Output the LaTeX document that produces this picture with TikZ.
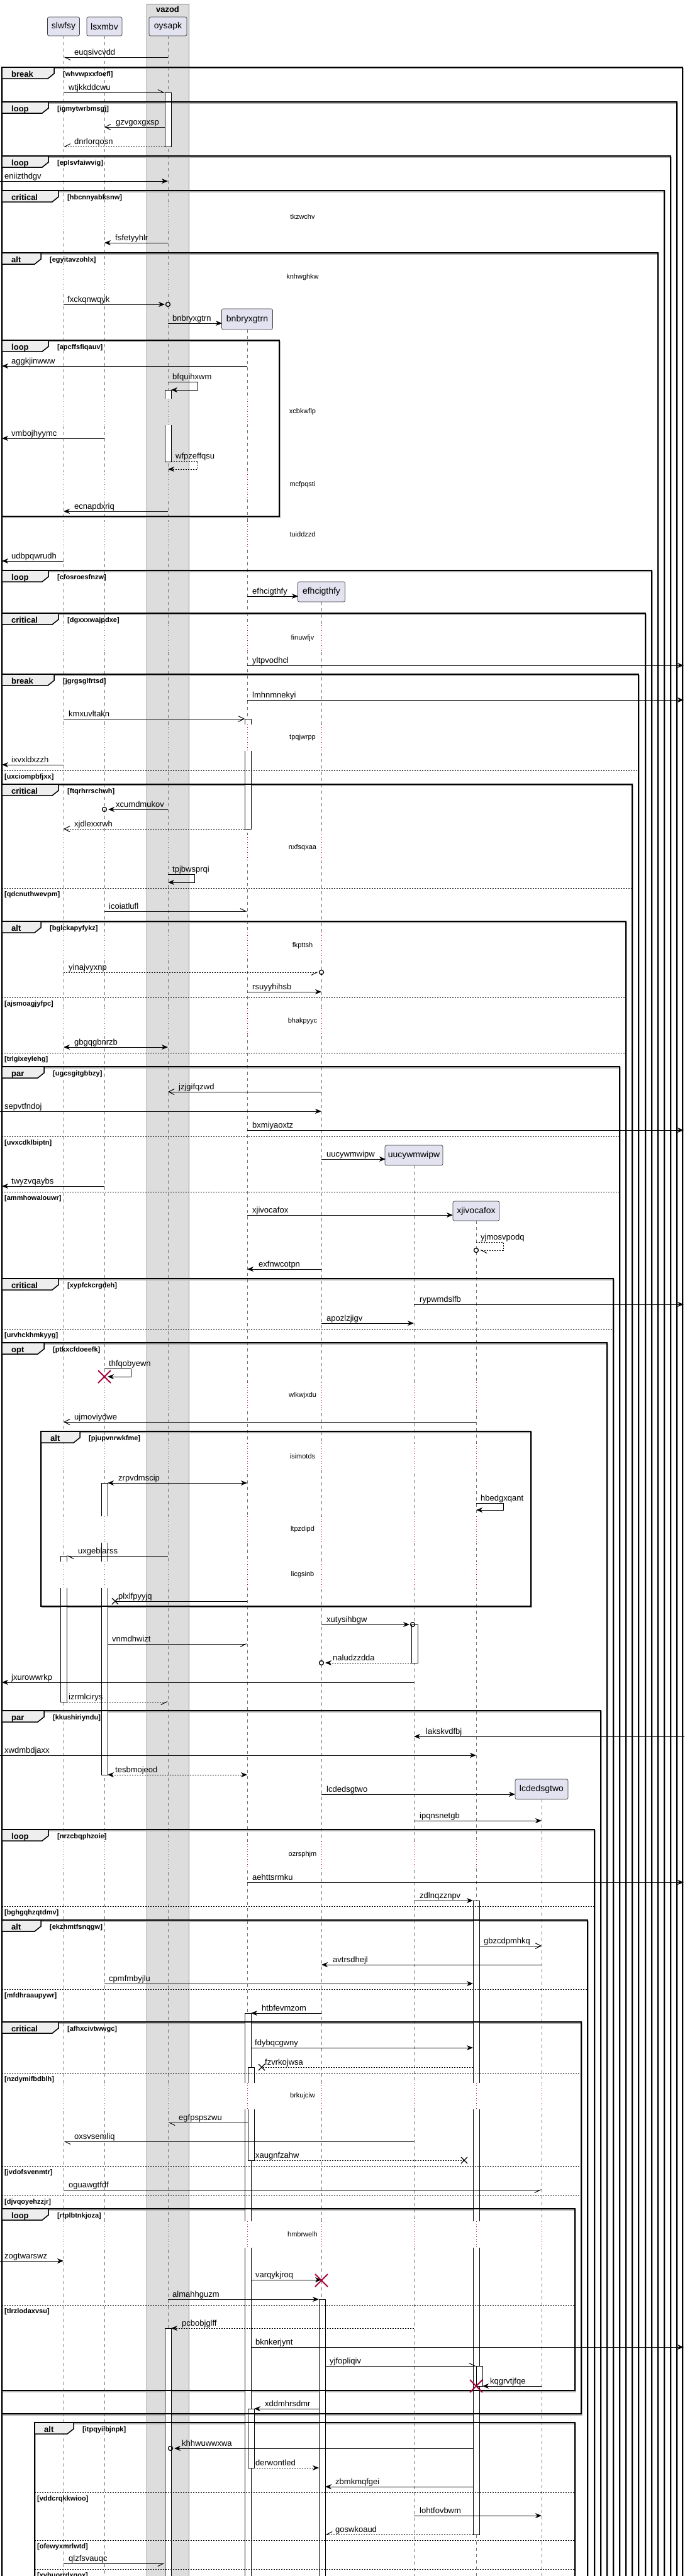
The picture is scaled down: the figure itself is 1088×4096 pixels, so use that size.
\documentclass[tikz,border=0pt]{standalone}
\usepackage{fontspec}
\setmainfont{Liberation Sans}
\usetikzlibrary{arrows.meta}
\definecolor{partfill}{HTML}{E2E2F0}
\definecolor{boxfill}{HTML}{DDDDDD}
\definecolor{tabfill}{HTML}{EEEEEE}
\definecolor{dred}{HTML}{A80036}
\pgfdeclarelayer{back}
\pgfdeclarelayer{shade}
\pgfsetlayers{back,shade,main}
\newcommand\fmsg{\fontsize{13}{15}\selectfont}
\newcommand\fpart{\fontsize{14}{16}\selectfont}
\newcommand\fdel{\fontsize{11}{13}\selectfont}
\newcommand\fkw{\fontsize{13}{15}\selectfont\bfseries}
\newcommand\fcond{\fontsize{11}{13}\selectfont\bfseries}
\tikzset{
  msgline/.style={line width=1pt, black},
  dotl/.style={dash pattern=on 2pt off 2pt},
  af/.style={-{Stealth[length=10pt,width=8pt,inset=3pt]}},
  ao/.style={-{Straight Barb[length=9pt,width=9pt]}},
  hp/.style={-{Straight Barb[harpoon,length=9pt,width=9pt]}},
  hps/.style={-{Straight Barb[harpoon,swap,length=9pt,width=9pt]}},
  abb/.style={{Stealth[length=10pt,width=8pt,inset=3pt]}-{Stealth[length=10pt,width=8pt,inset=3pt]}},
  lifeline/.style={black!55, line width=0.7pt, dash pattern=on 5pt off 5pt},
  gdot/.style={black!60, line width=0.8pt, dash pattern=on 1pt off 3pt},
  rdot/.style={dred, line width=0.8pt, dash pattern=on 1pt off 3pt},
  frameline/.style={line width=1.5pt, black},
  frameshadow/.style={line width=1.5pt, black!30},
  tabst/.style={fill=tabfill, draw=black, line width=1.5pt, line join=miter},
  kwlbl/.style={anchor=base west, inner sep=0pt, font=\fkw},
  condlbl/.style={anchor=base west, inner sep=0pt, font=\fcond},
  mlbl/.style={anchor=base west, inner sep=0pt, font=\fmsg},
  dlbl/.style={anchor=center, inner sep=0pt, font=\fdel},
  elsel/.style={line width=1pt, dash pattern=on 2pt off 2pt},
  actbar/.style={fill=white, draw=black, line width=0.8pt},
  partbox/.style={draw=black!75, fill=partfill, rounded corners=2.5pt, line width=0.7pt, font=\fpart, inner sep=0pt, anchor=center},
  circmark/.style={circle, draw, line width=1.3pt, minimum size=7pt, inner sep=0pt},
}
% message: id, x1, x2, y, style, label x, text
\newcommand{\smsg}[7]{%
  \coordinate (#1s) at (#2,#4);
  \coordinate (#1e) at (#3,#4);
  \draw[msgline,#5] (#1s) -- (#1e);
  \node[mlbl] (#1l) at (#6,#4-4) {#7};}
% self message: id, xstart, xout, y1, y2, xend, style, label x, text
\newcommand{\sself}[9]{%
  \coordinate (#1s) at (#2,#4);
  \coordinate (#1e) at (#6,#5);
  \draw[msgline,#7] (#1s) -- (#3,#4) -- (#3,#5) -- (#1e);
  \node[mlbl] (#1l) at (#8,#4-4) {#9};}
\newcommand{\cmk}[3]{\node[circmark] (#1) at (#2,#3) {};}
\newcommand{\xmk}[3]{\coordinate (#1) at (#2,#3);
  \draw[line width=1.3pt] (#2-5,#3-5) -- (#2+5,#3+5) (#2-5,#3+5) -- (#2+5,#3-5);}
\newcommand{\dstr}[3]{\coordinate (#1) at (#2,#3);
  \draw[dred,line width=2pt] (#2-10,#3-10) -- (#2+10,#3+10) (#2-10,#3+10) -- (#2+10,#3-10);}
\newcommand{\actb}[4]{\draw[actbar] (#1,#2) rectangle (#3,#4);}
% group: id, L, T, R, B, tabR, keyword, condition
\newcommand{\sgrp}[8]{%
  \begin{pgfonlayer}{shade}
  \draw[frameshadow] (#2+1.5,#3+2) rectangle (#4+1.5,#5+2);
  \end{pgfonlayer}
  \draw[frameline] (#2,#3) rectangle (#4,#5);
  \filldraw[tabst] (#2,#3) -- (#6,#3) -- (#6,#3+10) -- (#6-10,#3+18) -- (#2,#3+18) -- cycle;
  \node[kwlbl] (#1k) at (#2+15,#3+15) {#7};
  \node[condlbl] (#1c) at (#6+14,#3+14) {[#8]};}
% else: id, L, R, y, condition
\newcommand{\selse}[5]{%
  \draw[elsel] (#2,#4) -- (#3,#4);
  \node[condlbl] (#1) at (#2+4,#4+13) {[#5]};}
% delay gaps
\newcommand{\dgw}[2]{\fill[white] (#1-12,#2-21) rectangle (#1+13,#2+21);\draw[gdot] (#1,#2-21) -- (#1,#2+21);}
\newcommand{\dgc}[2]{\fill[boxfill] (#1-12,#2-21) rectangle (#1+13,#2+21);\draw[gdot] (#1,#2-21) -- (#1,#2+21);}
\newcommand{\dgr}[2]{\fill[white] (#1-12,#2-21) rectangle (#1+13,#2+21);\draw[rdot] (#1,#2-21) -- (#1,#2+21);}
\newcommand{\dABC}[1]{\dgw{101}{#1}\dgw{166}{#1}\dgc{267}{#1}}
\newcommand{\dly}[3]{\node[dlbl] (#1) at (481,#2) {#3};}

\begin{document}
\begin{tikzpicture}[x=1pt,y=-1pt]
\useasboundingbox (0,0) rectangle (1088,4096);
\clip (0,0) rectangle (1088,4096);
\begin{pgfonlayer}{back}
\fill[white] (0,0) rectangle (1088,4096);
\node[draw=black!50, fill=boxfill, line width=0.7pt, minimum width=67pt, minimum height=4104pt, anchor=north west, inner sep=0pt] (vbox) at (233,6) {};
\end{pgfonlayer}
\node[font=\fkw] (vtitle) at (266.5,15) {vazod};

% participants
\node[partbox, minimum width=51pt, minimum height=30pt] (pA) at (101,42) {slwfsy};
\node[partbox, minimum width=56pt, minimum height=30pt] (pB) at (166,42) {lsxmbv};
\node[partbox, minimum width=60pt, minimum height=30pt] (pC) at (267,42) {oysapk};
\node[partbox, minimum width=81pt, minimum height=33pt] (pD) at (393,507.5) {bnbryxgtrn};
\node[partbox, minimum width=75pt, minimum height=32pt] (pE) at (511,941) {efhcigthfy};
\node[partbox, minimum width=92pt, minimum height=32pt] (pF) at (658,1837) {uucywmwipw};
\node[partbox, minimum width=74pt, minimum height=31pt] (pG) at (757,1925.5) {xjivocafox};
\node[partbox, minimum width=84pt, minimum height=32pt] (pH) at (861,2845) {lcdedsgtwo};

% lifelines
\coordinate (zA) at (101,4110);\coordinate (zB) at (166,4110);\coordinate (zC) at (267,4110);
\coordinate (zD) at (393,4110);\coordinate (zE) at (511,4110);\coordinate (zF) at (658,4110);
\coordinate (zG) at (757,4110);\coordinate (zH) at (861,4110);
\draw[lifeline] (pA.south) -- (zA);
\draw[lifeline] (pB.south) -- (zB);
\draw[lifeline] (pC.south) -- (zC);
\draw[lifeline] (pD.south) -- (zD);
\draw[lifeline] (pE.south) -- (zE);
\draw[lifeline] (pF.south) -- (zF);
\draw[lifeline] (pG.south) -- (zG);
\draw[lifeline] (pH.south) -- (zH);

% activations
\actb{262}{147}{272}{233}
\actb{262}{620}{272}{734}
\actb{389}{1143}{399}{1318}
\actb{161}{2358}{171}{2822}
\actb{96}{2474}{106}{2706}
\actb{654}{2583}{664}{2644}
\actb{752}{3022}{762}{4030}
\actb{389}{3201}{399}{4110}
\actb{394}{3287}{404}{3435}
\actb{507}{3656}{517}{4110}
\actb{262}{3702}{272}{4110}
\actb{757}{3762}{767}{3794}
\actb{394}{3830}{404}{3924}

% groups
\sgrp{f1}{3}{107}{1085}{4110}{86}{break}{whvwpxxfoefl}
\sgrp{f2}{3}{162}{1076}{4110}{77}{loop}{igmytwrbmsgj}
\sgrp{f3}{3}{248}{1066}{4110}{77}{loop}{eplsvfaiwvig}
\sgrp{f4}{3}{303}{1056}{4110}{93}{critical}{hbcnnyabksnw}
\sgrp{f5}{3}{402}{1046}{4110}{65}{alt}{egyitavzohlx}
\sgrp{f6}{3}{541}{444}{821}{77}{loop}{apcffsfiqauv}
\sgrp{f7}{3}{907}{1036}{4110}{77}{loop}{cfosroesfnzw}
\sgrp{f8}{3}{975}{1026}{4110}{93}{critical}{dgxxxwajpdxe}
\sgrp{f9}{3}{1072}{1015}{4110}{86}{break}{jgrgsglfrtsd}
\selse{e9a}{3}{1015}{1225}{uxciompbfjxx}
\sgrp{f10}{3}{1247}{1005}{4110}{93}{critical}{ftqrhrrschwh}
\selse{e10a}{3}{1005}{1412}{qdcnuthwevpm}
\sgrp{f11}{3}{1465}{995}{4110}{65}{alt}{bglckapyfykz}
\selse{e11a}{3}{995}{1586}{ajsmoagjyfpc}
\selse{e11b}{3}{995}{1674}{trlgixeylehg}
\sgrp{f12}{3}{1696}{985}{4110}{70}{par}{ugcsgitgbbzy}
\selse{e12a}{3}{985}{1807}{uvxcdklbiptn}
\selse{e12b}{3}{985}{1895}{ammhowalouwr}
\sgrp{f13}{3}{2033}{975}{4110}{93}{critical}{xypfckcrgdeh}
\selse{e13a}{3}{975}{2113}{urvhckhmkyyg}
\sgrp{f14}{3}{2135}{965}{4110}{70}{opt}{ptkxcfdoeefk}
\sgrp{f15}{65}{2276}{844}{2554}{127}{alt}{pjupvnrwkfme}
\sgrp{f16}{3}{2720}{955}{4110}{70}{par}{kkushiriyndu}
\sgrp{f17}{3}{2909}{945}{4110}{77}{loop}{nrzcbqphzoie}
\selse{e17a}{3}{945}{3031}{bghgqhzqtdmv}
\sgrp{f18}{3}{3053}{934}{4110}{65}{alt}{ekzhmtfsnqgw}
\selse{e18a}{3}{934}{3163}{mfdhraaupywr}
\sgrp{f19}{3}{3215}{924}{3838}{93}{critical}{afhxcivtwwgc}
\selse{e19a}{3}{924}{3296}{nzdymifbdblh}
\selse{e19b}{3}{924}{3444}{jvdofsvenmtr}
\selse{e19c}{3}{924}{3491}{djvqoyehzzjr}
\sgrp{f20}{3}{3512}{914}{3801}{77}{loop}{rtplbtnkjoza}
\selse{e20a}{3}{914}{3665}{tlrzlodaxvsu}
\sgrp{f21}{55}{3852}{914}{4110}{117}{alt}{itpqyiibjnpk}
\selse{e21a}{55}{914}{3963}{vddcrqkkwioo}
\selse{e21b}{55}{914}{4039}{ofewyxmrlwtd}
\selse{e21c}{55}{914}{4085}{xybuorrdxgox}

% delays
\dABC{345}\dly{d1}{345}{tkzwchv}
\dABC{441}\dly{d2}{441}{knhwghkw}
\dABC{655}\dgr{393}{655}\dly{d3}{655}{xcbkwflp}
\dABC{771}\dgr{393}{771}\dly{d4}{771}{mcfpqsti}
\dABC{850}\dgr{393}{850}\dly{d5}{850}{tuiddzzd}
\dABC{1015}\dgr{393}{1015}\dgr{511}{1015}\dly{d6}{1015}{finuwfjv}
\dABC{1173}\dgr{393}{1173}\dgr{511}{1173}\dly{d7}{1173}{tpqjwrpp}
\dABC{1348}\dgr{393}{1348}\dgr{511}{1348}\dly{d8}{1348}{nxfsqxaa}
\dABC{1504}\dgr{393}{1504}\dgr{511}{1504}\dly{d9}{1504}{fkpttsh}
\dABC{1624}\dgr{393}{1624}\dgr{511}{1624}\dly{d10}{1624}{bhakpyyc}
\dABC{2219}\dgr{393}{2219}\dgr{511}{2219}\dgr{658}{2219}\dgr{757}{2219}\dly{d11}{2219}{wlkwjxdu}
\dABC{2316}\dgr{393}{2316}\dgr{511}{2316}\dgr{658}{2316}\dgr{757}{2316}\dly{d12}{2316}{isimotds}
\dABC{2432}\dgr{393}{2432}\dgr{511}{2432}\dgr{658}{2432}\dgr{757}{2432}\dly{d13}{2432}{ltpzdipd}
\dABC{2504}\dgr{393}{2504}\dgr{511}{2504}\dgr{658}{2504}\dgr{757}{2504}\dly{d14}{2504}{licgsinb}
\dABC{2949}\dgr{393}{2949}\dgr{511}{2949}\dgr{658}{2949}\dgr{757}{2949}\dgr{861}{2949}\dly{d15}{2949}{ozrsphjm}
\dABC{3333}\dgr{393}{3333}\dgr{511}{3333}\dgr{658}{3333}\dgr{757}{3333}\dgr{861}{3333}\dly{d16}{3333}{brkujciw}
\dABC{3553}\dgr{393}{3553}\dgr{511}{3553}\dgr{658}{3553}\dgr{757}{3553}\dgr{861}{3553}\dly{d17}{3553}{hmbrwelh}

% messages
\smsg{m1}{267}{101}{91}{hp}{118}{euqsivcvdd}
\smsg{m2}{101}{262}{147}{hp}{109}{wtjkkddcwu}
\smsg{m3}{262}{166}{202}{ao}{184}{gzvgoxgxsp}
\smsg{m4}{262}{101}{233}{hps,dotl}{118}{dnrlorqosn}
\smsg{m5}{0}{267}{288}{af}{7}{eniizthdgv}
\smsg{m6}{267}{166}{386}{af}{183}{fsfetyyhlr}
\smsg{m7}{101}{262}{484}{af}{107}{fxckqnwqyk}\cmk{m7o}{267}{484}
\smsg{m8}{267}{353}{514}{af}{274}{bnbryxgtrn}
\smsg{m9}{393}{3}{582}{af}{18}{aggkjinwww}
\sself{m10}{267}{314}{607}{620}{272}{af}{274}{bfquihxwm}
\smsg{m11}{166}{3}{697}{af}{18}{vmbojhyymc}
\sself{m12}{272}{314}{733}{746}{267}{af,dotl}{279}{wfpzeffqsu}
\smsg{m13}{267}{101}{813}{af}{118}{ecnapdxriq}
\smsg{m14}{101}{3}{892}{af}{18}{udbpqwrudh}
\smsg{m15}{393}{474}{948}{af}{401}{efhcigthfy}
\smsg{m16}{393}{1087}{1058}{af}{401}{yltpvodhcl}
\smsg{m17}{393}{1087}{1113}{af}{401}{lmhnmnekyi}
\smsg{m18}{101}{389}{1143}{ao}{109}{kmxuvltakn}
\smsg{m19}{101}{3}{1216}{af}{18}{ixvxldxzzh}
\smsg{m20}{267}{172}{1287}{af}{184}{xcumdmukov}\cmk{m20o}{166}{1287}
\smsg{m21}{389}{101}{1318}{ao,dotl}{118}{xjdlexxrwh}
\sself{m22}{267}{309}{1390}{1403}{267}{af}{274}{tpjbwsprqi}
\smsg{m23}{166}{393}{1449}{hp}{173}{icoiatlufl}
\smsg{m24}{101}{506}{1546}{hps,dotl}{109}{yinajvyxnp}\cmk{m24o}{511}{1546}
\smsg{m25}{393}{511}{1577}{af}{401}{rsuyyhihsb}
\smsg{m26}{101}{267}{1665}{abb}{118}{gbgqgbnrzb}
\smsg{m27}{511}{267}{1736}{ao}{284}{jzjgifqzwd}
\smsg{m28}{0}{511}{1767}{af}{7}{sepvtfndoj}
\smsg{m29}{393}{1087}{1797}{af}{401}{bxmiyaoxtz}
\smsg{m30}{511}{613}{1843}{af}{519}{uucywmwipw}
\smsg{m31}{166}{3}{1886}{af}{18}{twyzvqaybs}
\smsg{m32}{393}{720}{1932}{af}{401}{xjivocafox}
\sself{m33}{757}{800}{1975}{1988}{763}{hp,dotl}{764}{yjmosvpodq}\cmk{m33o}{757}{1988}
\smsg{m34}{511}{393}{2018}{af}{411}{exfnwcotpn}
\smsg{m35}{658}{1087}{2074}{af}{667}{rypwmdslfb}
\smsg{m36}{511}{658}{2104}{af}{519}{apozlzjigv}
\sself{m37}{166}{208}{2176}{2189}{171}{af}{173}{thfqobyewn}\dstr{m37x}{166}{2189}
\smsg{m38}{757}{101}{2261}{ao}{118}{ujmoviydwe}
\smsg{m39}{171}{393}{2358}{abb}{188}{zrpvdmscip}
\sself{m40}{757}{800}{2390}{2401}{757}{af}{764}{hbedgxqant}
\smsg{m41}{267}{106}{2474}{hp}{124}{uxgeblarss}
\smsg{m42}{393}{183}{2546}{}{188}{plxlfpyyjq}\xmk{m42x}{183}{2546}
\smsg{m43}{511}{651}{2583}{af}{519}{xutysihbgw}\cmk{m43o}{656}{2583}
\smsg{m44}{171}{393}{2614}{hps}{178}{vnmdhwizt}
\smsg{m45}{654}{517}{2644}{af,dotl}{529}{naludzzdda}\cmk{m45o}{511}{2644}
\smsg{m46}{658}{3}{2675}{af}{18}{jxurowwrkp}
\smsg{m47}{106}{267}{2706}{hps,dotl}{109}{izrmlcirys}
\smsg{m48}{1088}{658}{2761}{af}{677}{lakskvdfbj}
\smsg{m49}{0}{757}{2791}{af}{7}{xwdmbdjaxx}
\smsg{m50}{171}{393}{2822}{abb,dotl}{183}{tesbmojeod}
\smsg{m51}{511}{819}{2853}{af}{519}{lcdedsgtwo}
\smsg{m52}{658}{861}{2895}{af}{667}{ipqnsnetgb}
\smsg{m53}{393}{1087}{2993}{af}{401}{aehttsrmku}
\smsg{m54}{658}{752}{3022}{af}{667}{zdlnqzznpv}
\smsg{m55}{762}{861}{3094}{ao}{769}{gbzcdpmhkq}
\smsg{m56}{861}{511}{3124}{af}{529}{avtrsdhejl}
\smsg{m57}{166}{752}{3154}{af}{173}{cpmfmbyjlu}
\smsg{m58}{511}{399}{3201}{af}{416}{htbfevmzom}
\smsg{m59}{399}{752}{3256}{af}{405}{fdybqcgwny}
\smsg{m60}{752}{416}{3287}{dotl}{421}{fzvrkojwsa}\xmk{m60x}{416}{3287}
\smsg{m61}{394}{267}{3375}{hp}{284}{egfpspszwu}
\smsg{m62}{658}{101}{3405}{hp}{118}{oxsvsemliq}
\smsg{m63}{404}{738}{3435}{dotl}{406}{xaugnfzahw}\xmk{m63x}{738}{3435}
\smsg{m64}{101}{861}{3482}{hps}{109}{oguawgtfdf}
\smsg{m65}{0}{101}{3595}{af}{7}{zogtwarswz}
\smsg{m66}{399}{511}{3625}{af}{406}{varqykjroq}\dstr{m66x}{511}{3626}
\smsg{m67}{267}{507}{3656}{af}{274}{almahhguzm}
\smsg{m68}{658}{272}{3702}{af,dotl}{289}{pcbobjglff}
\smsg{m69}{399}{1087}{3732}{af}{406}{bknkerjynt}
\smsg{m70}{517}{757}{3762}{hp}{524}{yjfopliqiv}
\smsg{m71}{861}{767}{3794}{af}{779}{kqgrvtjfqe}\dstr{m71x}{757}{3794}
\smsg{m72}{507}{404}{3830}{af}{421}{xddmhrsdmr}
\smsg{m73}{752}{277}{3893}{af}{289}{khhwuwwxwa}\cmk{m73o}{271}{3893}
\smsg{m74}{404}{507}{3924}{af,dotl}{406}{derwontled}
\smsg{m75}{752}{517}{3954}{af}{533}{zbmkmqfgei}
\smsg{m76}{658}{861}{4000}{af}{667}{lohtfovbwm}
\smsg{m77}{752}{517}{4030}{hps,dotl}{533}{goswkoaud}
\smsg{m78}{101}{262}{4076}{hps}{109}{qlzfsvauqc}
\end{tikzpicture}
\end{document}
